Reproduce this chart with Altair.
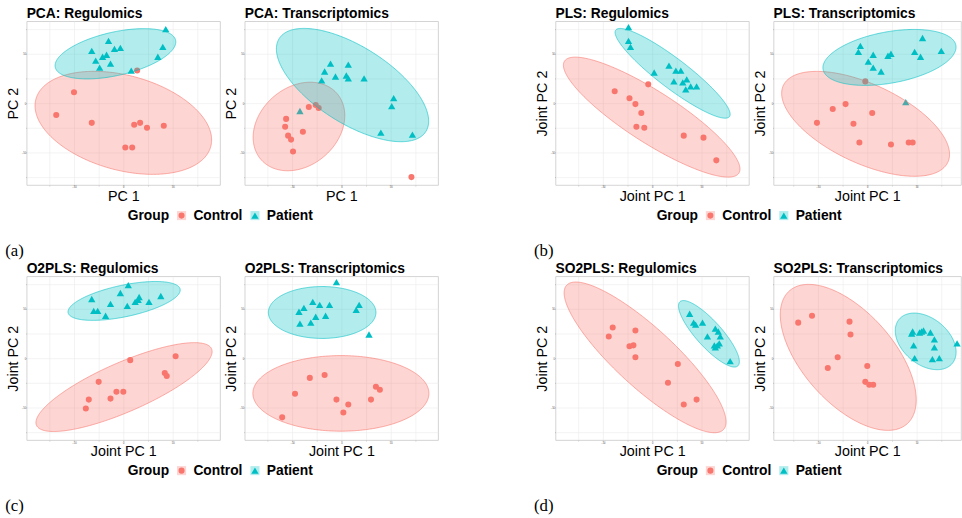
import numpy as np
import pandas as pd
import altair as alt

GROUPS = ["Control", "Patient"]
POINT_COLORS = ["#F8766D", "#00BFC4"]
FILL_COLORS = ["rgba(248,118,109,0.3)", "rgba(0,191,196,0.3)"]
SHAPES = ["circle", "triangle-up"]
POINT_SIZES = [38, 55]

SANS = "Liberation Sans"
SERIF = "Liberation Serif"

# Sample scores (component 1, component 2) per method and data block
pca_reg_control = [(14, 33), (-50, 11), (-68, -12), (-32, -20), (11, -22), (17, -20), (24, -25), (41, -23), (2, -45), (9, -45)]
pca_reg_patient = [(43, 75), (-15, 63), (-32, 53), (-9, 55), (-3, 56), (40, 57), (-21, 47), (-17, 49), (-28, 43), (-13, 40), (-24, 36), (35, 47), (8, 33)]

pca_tra_control = [(-33, -4), (-26, -2), (-23, -5), (-56, -16), (-57, -24), (-54, -33), (-51, -37), (-39, -29), (-49, -49), (71, -75)]
pca_tra_patient = [(-11, 40), (7, 39), (-17, 32), (-6, 27), (5, 28), (7, 25), (23, 25), (-20, 23), (53, 5), (51, -3), (-42, -8), (40, -30), (72, -32)]

pls_reg_control = [(-38, 12), (-4, 19), (-23, 5), (-17, -1), (-11, -10), (-16, -24), (-8, -25), (32, -33), (52, -35), (65, -58)]
pls_reg_patient = [(-24, 77), (-24, 63), (-22, 57), (2, 31), (17, 38), (24, 33), (29, 33), (22, 22), (31, 21), (35, 24), (39, 17), (45, 17), (34, 14)]

pls_tra_control = [(-2, 22), (-22, -1), (-35, -6), (5, -10), (-51, -20), (-14, -21), (-8, -40), (24, -42), (42, -40), (46, -40)]
pls_tra_patient = [(-7, 58), (-9, 52), (56, 66), (75, 53), (48, 52), (54, 47), (6, 49), (24, 50), (21, 48), (1, 42), (6, 36), (14, 32), (39, 1)]

o2pls_reg_control = [(53, 2), (7, -2), (42, -15), (44, -18), (-25, -24), (-7, -34), (0, -34), (-13, -41), (-35, -42), (-38, -51)]
o2pls_reg_patient = [(5, 74), (-3, 66), (-32, 60), (-13, 55), (16, 62), (15, 59), (26, 57), (38, 63), (12, 57), (4, 53), (-30, 48), (-26, 48), (-18, 43)]

o2pls_tra_control = [(-17, -17), (-32, -20), (-47, -36), (35, -29), (39, -32), (-5, -42), (7, -47), (30, -42), (2, -55), (-60, -60)]
o2pls_tra_patient = [(-5, 77), (-29, 57), (-22, 54), (-12, 54), (18, 54), (-38, 51), (15, 49), (-43, 47), (-26, 42), (-16, 43), (-42, 35), (-31, 36), (28, 24)]

so2pls_reg_control = [(-40, 31), (-17, 28), (-44, 22), (-23, 12), (-19, 13), (-17, 1), (26, -6), (16, -25), (45, -42), (32, -47)]
so2pls_reg_patient = [(38, 45), (42, 36), (44, 34), (51, 36), (64, 30), (67, 27), (56, 22), (69, 22), (68, 15), (64, 11), (63, 13), (79, -3), (66, 13)]

so2pls_tra_control = [(-56, 43), (-70, 36), (-18, 37), (-17, 24), (-30, 1), (-40, -10), (0, -8), (-2, -24), (2, -27), (6, -27)]
so2pls_tra_patient = [(45, 25), (55, 27), (57, 28), (64, 26), (68, 19), (47, 13), (68, 11), (91, 15), (48, 0), (66, -1), (73, 0), (53, 26), (46, 27)]

# Group ellipses: centre x, centre y, semi-major, semi-minor, rotation (degrees)
pca_reg_ellipses = {"Control": (0, -20, 91.8, 48, -15.2), "Patient": (-8, 50, 62.5, 22, 12.7)}
pca_tra_ellipses = {"Control": (-43, -23.7, 51, 39.6, 41), "Patient": (11.3, 18.3, 88, 38.8, -32.4)}
pls_reg_ellipses = {"Control": (-0.5, -14.2, 105, 26, -32.7), "Patient": (20.7, 30.2, 72.4, 15, -37.3)}
pls_tra_ellipses = {"Control": (-1.7, -21, 92, 40, -25), "Patient": (22.5, 46.3, 68.4, 26, 10.3)}
o2pls_reg_ellipses = {"Control": (0.7, -29.3, 96.8, 25, 23.6), "Patient": (0.8, 58, 58, 16, 11.9)}
o2pls_tra_ellipses = {"Control": (-0.5, -35.7, 89.2, 38.3, 0), "Patient": (-19.5, 46.3, 54.5, 26.3, 0)}
so2pls_reg_ellipses = {"Control": (-7.2, 0.8, 108, 30, -42.6), "Patient": (57.5, 24.7, 43.8, 13, -48)}
so2pls_tra_ellipses = {"Control": (-19.3, 0.8, 90, 46, -48.5), "Patient": (59.2, 17, 35, 23.4, -39.6)}

TICKS = [-75, -50, -25, 0, 25, 50, 75]
PANEL_H = 166
LEFT_W = 196
RIGHT_W = 190

LEG_X, LEG_Y = 102.5, 190


def scores_frame(control, patient):
    rows = [(x, y, "Control") for x, y in control] + [(x, y, "Patient") for x, y in patient]
    return pd.DataFrame(rows, columns=["c1", "c2", "Group"])


def ellipse_frame(ellipses, n=181):
    """Lower and upper edge of each rotated ellipse, sampled along x."""
    parts = []
    for group, (cx, cy, a, b, deg) in ellipses.items():
        th = np.radians(deg)
        c, s = np.cos(th), np.sin(th)
        half_w = np.sqrt((a * c) ** 2 + (b * s) ** 2)
        dx = half_w * np.cos(np.linspace(np.pi, 0, n))
        qa = s * s / a**2 + c * c / b**2
        qb = 2 * dx * c * s * (1 / a**2 - 1 / b**2)
        qc = dx * dx * (c * c / a**2 + s * s / b**2) - 1
        root = np.sqrt(np.clip(qb * qb - 4 * qa * qc, 0, None))
        parts.append(pd.DataFrame({
            "ex": cx + dx,
            "lo": cy + (-qb - root) / (2 * qa),
            "hi": cy + (-qb + root) / (2 * qa),
            "Group": group,
        }))
    return pd.concat(parts, ignore_index=True)


AXIS_STYLE = dict(
    values=TICKS,
    labelExpr="datum.value % 50 == 0 ? datum.label : ''",
    labelFontSize=2.6, labelColor="#4d4d4d", labelPadding=0,
    tickSize=1, tickColor="#999999", tickWidth=0.5,
    domain=False, gridColor="#ebebeb", gridWidth=0.6,
    titleFont=SANS, titleFontSize=14.5, titleFontWeight="normal",
    titleColor="black", titlePadding=1,
)

# Both legends share one layout (entry size is floored at the label font size),
# so the translucent key boxes sit exactly behind the point symbols.
LEGEND_TEXT = dict(
    title="Group", orient="none", direction="horizontal",
    legendX=LEG_X, legendY=LEG_Y,
    titleOrient="left", titleFont=SANS, titleFontSize=14, titleFontWeight="bold",
    titleAnchor="middle", titleBaseline="middle", titlePadding=5.5,
    labelFont=SANS, labelFontSize=14, labelFontWeight="bold", labelOffset=5,
    columnPadding=5.4, symbolStrokeWidth=0, symbolOpacity=1,
)

key_legend = alt.Legend(titleColor="black", labelColor="black", symbolSize=24, **LEGEND_TEXT)
box_legend = alt.Legend(titleColor="transparent", labelColor="transparent", symbolSize=85,
                        symbolType="square", **LEGEND_TEXT)


def panel(title, xlab, ylab, control, patient, ellipses, width):
    scores = scores_frame(control, patient)
    ell = ellipse_frame(ellipses)
    xs = alt.Scale(domain=[-width / 2, width / 2], nice=False, zero=False)
    ys = alt.Scale(domain=[-PANEL_H / 2, PANEL_H / 2], nice=False, zero=False)
    x_axis = alt.Axis(title=xlab, **AXIS_STYLE)
    y_axis = alt.Axis(title=ylab, **AXIS_STYLE)

    pts = alt.Chart(scores).mark_point(filled=True, opacity=1, strokeWidth=0).encode(
        x=alt.X("c1:Q", scale=xs, axis=x_axis),
        y=alt.Y("c2:Q", scale=ys, axis=y_axis),
        color=alt.Color("Group:N", scale=alt.Scale(domain=GROUPS, range=POINT_COLORS), legend=key_legend),
        shape=alt.Shape("Group:N", scale=alt.Scale(domain=GROUPS, range=SHAPES), legend=key_legend),
        size=alt.Size("Group:N", scale=alt.Scale(domain=GROUPS, range=POINT_SIZES), legend=None),
    )
    areas = alt.Chart(ell).mark_area(strokeWidth=0.6, opacity=1).encode(
        x=alt.X("ex:Q", scale=xs, axis=x_axis),
        y=alt.Y("lo:Q", scale=ys, axis=y_axis),
        y2="hi:Q",
        fill=alt.Fill("Group:N", scale=alt.Scale(range=FILL_COLORS), legend=box_legend),
        stroke=alt.Stroke("Group:N", scale=alt.Scale(domain=GROUPS, range=POINT_COLORS), legend=None),
    )
    return alt.layer(pts, areas).properties(
        width=width, height=PANEL_H,
        title=alt.TitleParams(title, anchor="start", frame="group", font=SANS, fontSize=14,
                              fontWeight="bold", color="black", offset=0),
    )


def pair(tag, method, xlab, ylab, reg, tra, right=False):
    w2 = RIGHT_W if right else LEFT_W
    left = panel(f"{method}: Regulomics", xlab, ylab, reg[0], reg[1], reg[2], LEFT_W)
    rightp = panel(f"{method}: Transcriptomics", xlab, ylab, tra[0], tra[1], tra[2], w2)
    return alt.hconcat(
        left, rightp, spacing=2,
        title=alt.TitleParams(tag, orient="bottom", anchor="start", font=SERIF, fontSize=17,
                              fontWeight="normal", color="black", offset=21),
    )


INDEP = dict(color="independent", shape="independent", fill="independent",
             stroke="independent", size="independent")

pa = pair("(a)", "PCA", "PC 1", "PC 2",
          (pca_reg_control, pca_reg_patient, pca_reg_ellipses),
          (pca_tra_control, pca_tra_patient, pca_tra_ellipses))
pb = pair("(b)", "PLS", "Joint PC 1", "Joint PC 2",
          (pls_reg_control, pls_reg_patient, pls_reg_ellipses),
          (pls_tra_control, pls_tra_patient, pls_tra_ellipses), right=True)
pc = pair("(c)", "O2PLS", "Joint PC 1", "Joint PC 2",
          (o2pls_reg_control, o2pls_reg_patient, o2pls_reg_ellipses),
          (o2pls_tra_control, o2pls_tra_patient, o2pls_tra_ellipses))
pd_ = pair("(d)", "SO2PLS", "Joint PC 1", "Joint PC 2",
           (so2pls_reg_control, so2pls_reg_patient, so2pls_reg_ellipses),
           (so2pls_tra_control, so2pls_tra_patient, so2pls_tra_ellipses), right=True)

row1 = alt.hconcat(pa, pb, spacing=96).resolve_scale(**INDEP)
row2 = alt.hconcat(pc, pd_, spacing=96).resolve_scale(**INDEP)

chart = (
    alt.vconcat(row1, row2, spacing=2.5)
    .resolve_scale(**INDEP)
    .configure(padding={"left": 5, "top": 3, "right": 0, "bottom": 0}, background="white")
    .configure_view(stroke="#c8c8c8", strokeWidth=0.8)
)

chart.save("out.html", embed_options={"renderer": "svg", "actions": False})
